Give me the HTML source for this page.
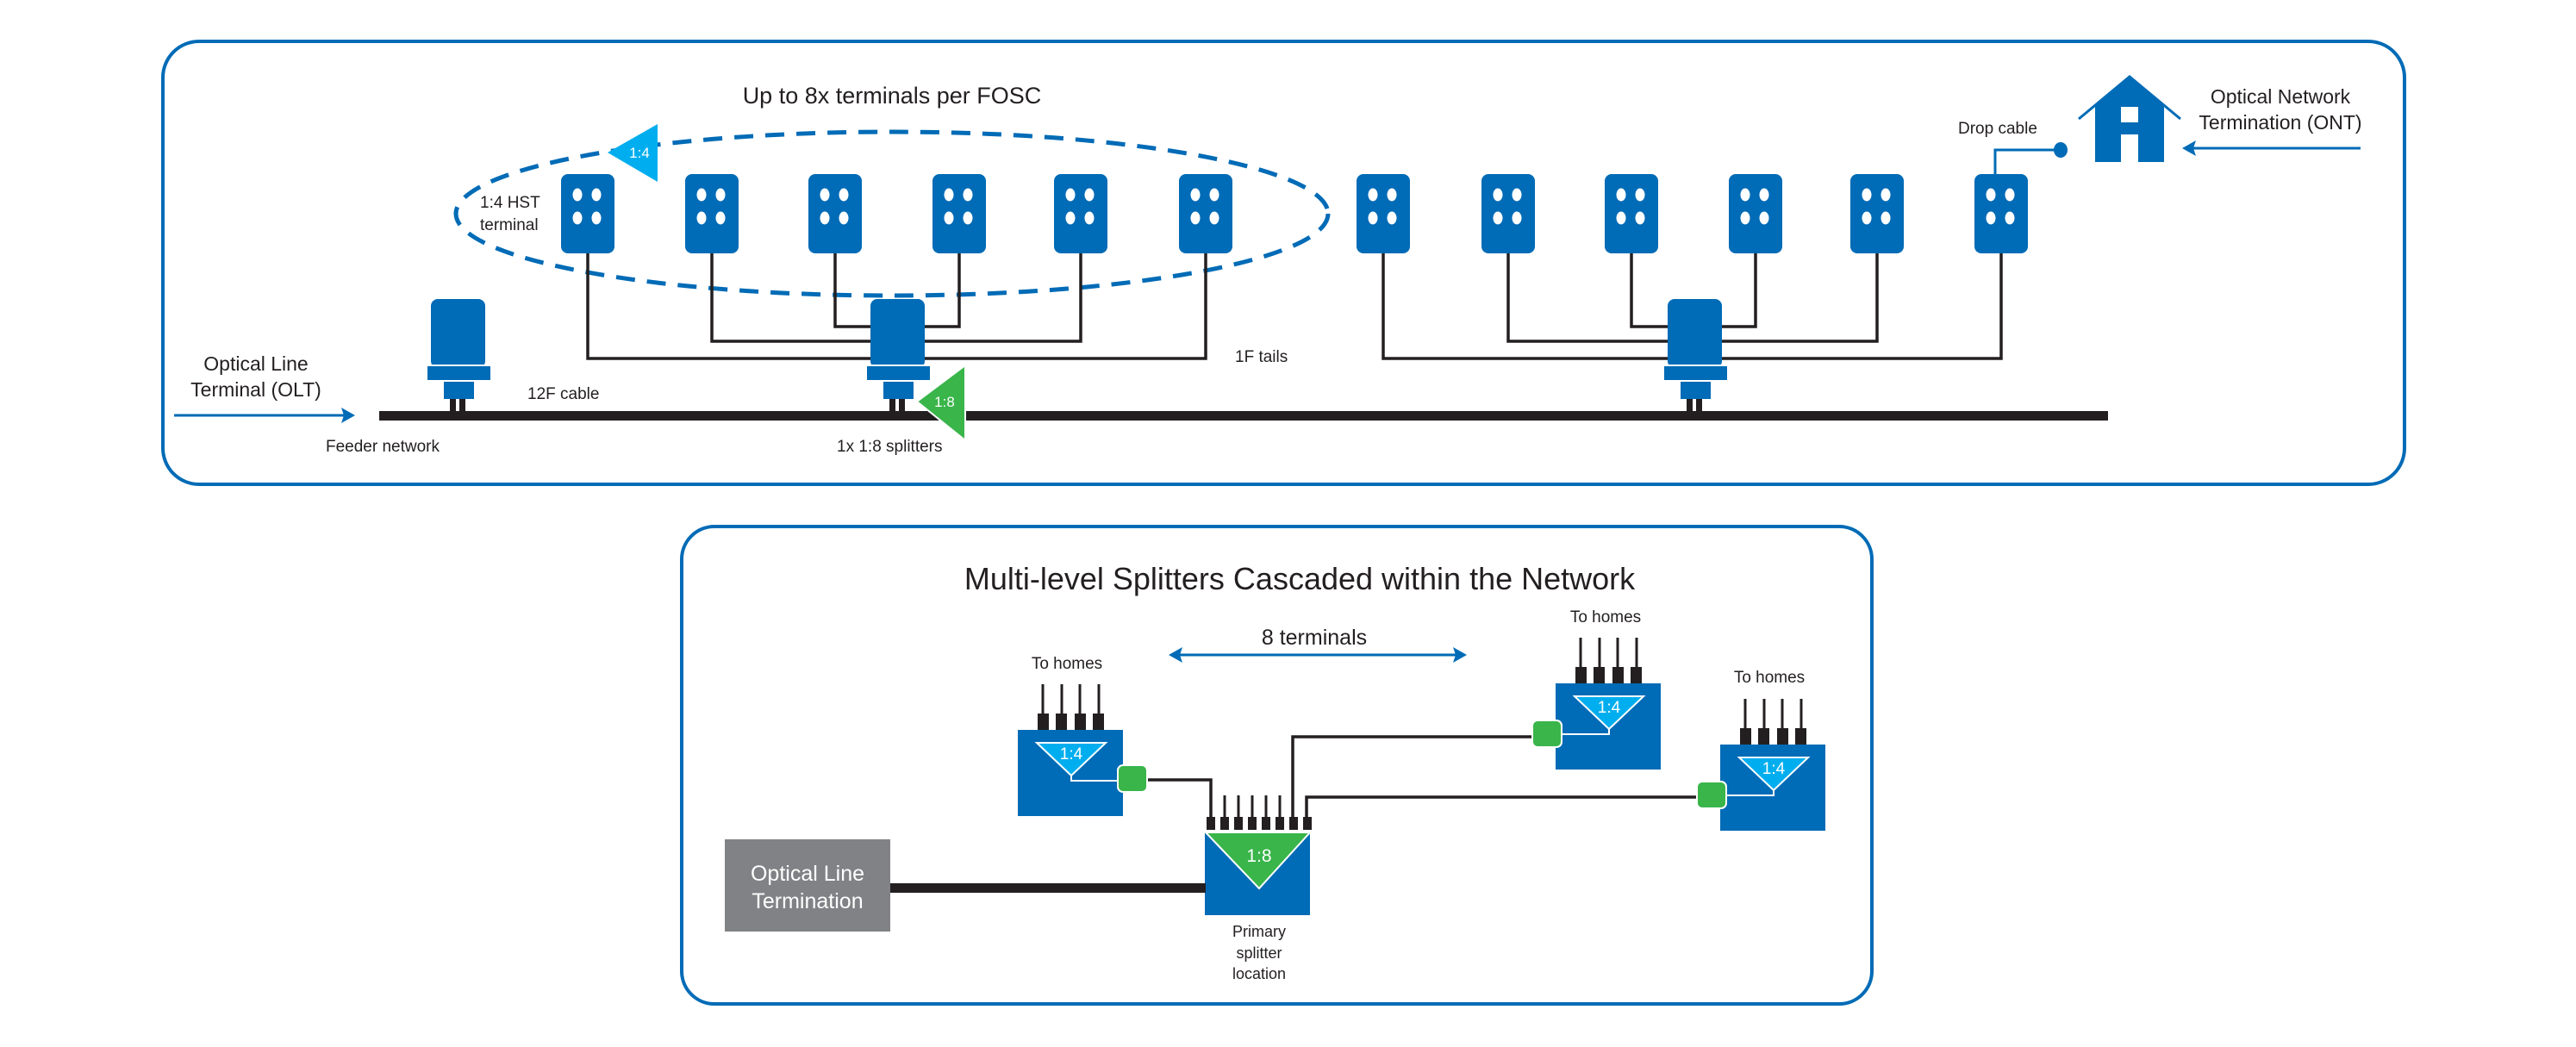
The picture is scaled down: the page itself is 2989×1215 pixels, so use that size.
<!DOCTYPE html>
<html><head><meta charset="utf-8"><style>
html,body{margin:0;padding:0;background:#fff;}
svg{display:block;}
text{font-family:"Liberation Sans",sans-serif;fill:#231f20;}
</style></head><body>
<svg width="2989" height="1215" viewBox="0 0 2989 1215" xmlns="http://www.w3.org/2000/svg">
<defs>
<g id="term">
<rect x="0" y="0" width="62" height="92" rx="8" fill="#006bb6"/>
<ellipse cx="19" cy="24" rx="5.5" ry="7.5" fill="#fff"/>
<ellipse cx="41" cy="24" rx="5.5" ry="7.5" fill="#fff"/>
<ellipse cx="19" cy="51" rx="5.5" ry="7.5" fill="#fff"/>
<ellipse cx="41" cy="51" rx="5.5" ry="7.5" fill="#fff"/>
</g>
<g id="fosc">
<rect x="5" y="0" width="63" height="80" rx="8" fill="#006bb6"/>
<rect x="0" y="77" width="75" height="18" fill="#006bb6" stroke="#fff" stroke-width="2"/>
<rect x="20" y="96" width="35" height="20" fill="#006bb6"/>
<rect x="27" y="116" width="7" height="15" fill="#231f20"/>
<rect x="38" y="116" width="7" height="15" fill="#231f20"/>
</g>
<g id="sp4">
<line x1="29" y1="-53" x2="29" y2="-18" stroke="#231f20" stroke-width="3"/>
<line x1="51" y1="-53" x2="51" y2="-18" stroke="#231f20" stroke-width="3"/>
<line x1="72" y1="-53" x2="72" y2="-18" stroke="#231f20" stroke-width="3"/>
<line x1="94" y1="-53" x2="94" y2="-18" stroke="#231f20" stroke-width="3"/>
<rect x="23" y="-19" width="13" height="19" fill="#231f20"/>
<rect x="44" y="-19" width="13" height="19" fill="#231f20"/>
<rect x="66" y="-19" width="13" height="19" fill="#231f20"/>
<rect x="87" y="-19" width="13" height="19" fill="#231f20"/>
<rect x="0" y="0" width="122" height="100" fill="#006bb6"/>
<polygon points="22,15 102,15 62,53" fill="#00aeef" stroke="#fff" stroke-width="2"/>
<text x="62" y="34" font-size="19" text-anchor="middle" style="fill:#fff">1:4</text>
</g>
</defs>

<!-- Top panel -->
<rect x="189" y="48" width="2601" height="514" rx="42" fill="none" stroke="#006bb6" stroke-width="4"/>

<text x="1035" y="120" font-size="27" text-anchor="middle">Up to 8x terminals per FOSC</text>
<ellipse cx="1035" cy="248" rx="506" ry="95" fill="none" stroke="#006bb6" stroke-width="5" stroke-dasharray="22,14"/>
<polygon points="705,177 763,144 763,211" fill="#00aeef"/>
<text x="742" y="183" font-size="17" text-anchor="middle" style="fill:#fff">1:4</text>
<text x="557" y="241" font-size="19">1:4 HST</text>
<text x="557" y="267" font-size="19">terminal</text>

<g fill="none" stroke="#231f20" stroke-width="3.5">
<polyline points="682,294 682,416 1399,416 1399,294"/>
<polyline points="826,294 826,396 1254,396 1254,294"/>
<polyline points="969,294 969,379 1113,379 1113,294"/>
<polyline points="1605,294 1605,416 2322,416 2322,294"/>
<polyline points="1750,294 1750,396 2178,396 2178,294"/>
<polyline points="1893,294 1893,379 2037,379 2037,294"/>
</g>

<use href="#term" x="651" y="202"/>
<use href="#term" x="795" y="202"/>
<use href="#term" x="938" y="202"/>
<use href="#term" x="1082" y="202"/>
<use href="#term" x="1223" y="202"/>
<use href="#term" x="1368" y="202"/>
<use href="#term" x="1574" y="202"/>
<use href="#term" x="1719" y="202"/>
<use href="#term" x="1862" y="202"/>
<use href="#term" x="2006" y="202"/>
<use href="#term" x="2147" y="202"/>
<use href="#term" x="2291" y="202"/>

<rect x="440" y="477" width="2006" height="11" fill="#231f20"/>
<use href="#fosc" x="495" y="347"/>
<use href="#fosc" x="1005" y="347"/>
<use href="#fosc" x="1930" y="347"/>

<polygon points="1064,466 1120,424 1120,511" fill="#39b54a" stroke="#fff" stroke-width="2"/>
<text x="1096" y="472" font-size="17" text-anchor="middle" style="fill:#fff">1:8</text>

<text x="297" y="430" font-size="23" text-anchor="middle">Optical Line</text>
<text x="297" y="460" font-size="23" text-anchor="middle">Terminal (OLT)</text>
<line x1="202" y1="482" x2="400" y2="482" stroke="#006bb6" stroke-width="3"/>
<polygon points="412,482 396,473 399,482 396,491" fill="#006bb6"/>
<text x="378" y="524" font-size="19">Feeder network</text>
<text x="612" y="463" font-size="19">12F cable</text>
<text x="971" y="524" font-size="19">1x 1:8 splitters</text>
<text x="1433" y="420" font-size="19">1F tails</text>

<!-- drop & house -->
<text x="2272" y="155" font-size="19">Drop cable</text>
<polyline points="2315,202 2315,174 2390,174" fill="none" stroke="#006bb6" stroke-width="3"/>
<ellipse cx="2391" cy="174" rx="8" ry="9" fill="#006bb6"/>
<polyline points="2412,138 2471,89 2530,138" fill="none" stroke="#006bb6" stroke-width="3"/>
<polygon points="2471,89 2511,122 2511,188 2431,188 2431,122" fill="#006bb6"/>
<rect x="2461" y="124" width="20" height="18" fill="#fff"/>
<rect x="2461" y="156" width="20" height="32" fill="#fff"/>
<text x="2646" y="120" font-size="23" text-anchor="middle">Optical Network</text>
<text x="2646" y="150" font-size="23" text-anchor="middle">Termination (ONT)</text>
<line x1="2544" y1="172" x2="2739" y2="172" stroke="#006bb6" stroke-width="3"/>
<polygon points="2532,172 2548,163 2545,172 2548,181" fill="#006bb6"/>

<!-- Bottom panel -->
<rect x="791" y="611" width="1381" height="554" rx="38" fill="none" stroke="#006bb6" stroke-width="4"/>
<text x="1508" y="684" font-size="36" text-anchor="middle" font-weight="300">Multi-level Splitters Cascaded within the Network</text>
<text x="1525" y="748" font-size="25" text-anchor="middle">8 terminals</text>
<line x1="1366" y1="760" x2="1692" y2="760" stroke="#006bb6" stroke-width="3"/>
<polygon points="1356,760 1372,751 1369,760 1372,769" fill="#006bb6"/>
<polygon points="1702,760 1686,751 1689,760 1686,769" fill="#006bb6"/>

<text x="1238" y="776" font-size="19" text-anchor="middle">To homes</text>
<text x="1863" y="722" font-size="19" text-anchor="middle">To homes</text>
<text x="2053" y="792" font-size="19" text-anchor="middle">To homes</text>

<g fill="none" stroke="#231f20" stroke-width="3.5">
<polyline points="1331,905 1405,905 1405,950"/>
<polyline points="1778,855 1500,855 1500,950"/>
<polyline points="1969,925 1516,925 1516,950"/>
</g>
<g stroke="#231f20" stroke-width="3">
<line x1="1421" y1="923" x2="1421" y2="950"/>
<line x1="1437" y1="923" x2="1437" y2="950"/>
<line x1="1453" y1="923" x2="1453" y2="950"/>
<line x1="1469" y1="923" x2="1469" y2="950"/>
<line x1="1485" y1="923" x2="1485" y2="950"/>
</g>
<g fill="#231f20">
<rect x="1400" y="948" width="10" height="15"/>
<rect x="1416" y="948" width="10" height="15"/>
<rect x="1432" y="948" width="10" height="15"/>
<rect x="1448" y="948" width="10" height="15"/>
<rect x="1464" y="948" width="10" height="15"/>
<rect x="1480" y="948" width="10" height="15"/>
<rect x="1496" y="948" width="10" height="15"/>
<rect x="1512" y="948" width="10" height="15"/>
</g>
<rect x="1398" y="966" width="122" height="96" fill="#006bb6"/>
<polygon points="1399,966 1520,966 1461,1031" fill="#39b54a" stroke="#fff" stroke-width="2"/>
<text x="1461" y="1000" font-size="21" text-anchor="middle" style="fill:#fff">1:8</text>

<rect x="841" y="974" width="192" height="107" fill="#808285"/>
<text x="937" y="1022" font-size="25" text-anchor="middle" style="fill:#fff">Optical Line</text>
<text x="937" y="1054" font-size="25" text-anchor="middle" style="fill:#fff">Termination</text>
<rect x="1033" y="1025" width="366" height="11" fill="#231f20"/>
<text x="1461" y="1087" font-size="18" text-anchor="middle">Primary</text>
<text x="1461" y="1112" font-size="18" text-anchor="middle">splitter</text>
<text x="1461" y="1136" font-size="18" text-anchor="middle">location</text>

<use href="#sp4" x="1181" y="847"/>
<use href="#sp4" x="1805" y="793"/>
<use href="#sp4" x="1996" y="864"/>

<polyline points="1243,900 1243,906 1299,906" fill="none" stroke="#fff" stroke-width="2"/>
<polyline points="1867,846 1867,852 1812,852" fill="none" stroke="#fff" stroke-width="2"/>
<polyline points="2058,917 2058,923 2003,923" fill="none" stroke="#fff" stroke-width="2"/>

<rect x="1297" y="888" width="34" height="31" rx="6" fill="#39b54a" stroke="#fff" stroke-width="2"/>
<rect x="1778" y="836" width="34" height="31" rx="6" fill="#39b54a" stroke="#fff" stroke-width="2"/>
<rect x="1969" y="907" width="34" height="31" rx="6" fill="#39b54a" stroke="#fff" stroke-width="2"/>
</svg>
</body></html>
